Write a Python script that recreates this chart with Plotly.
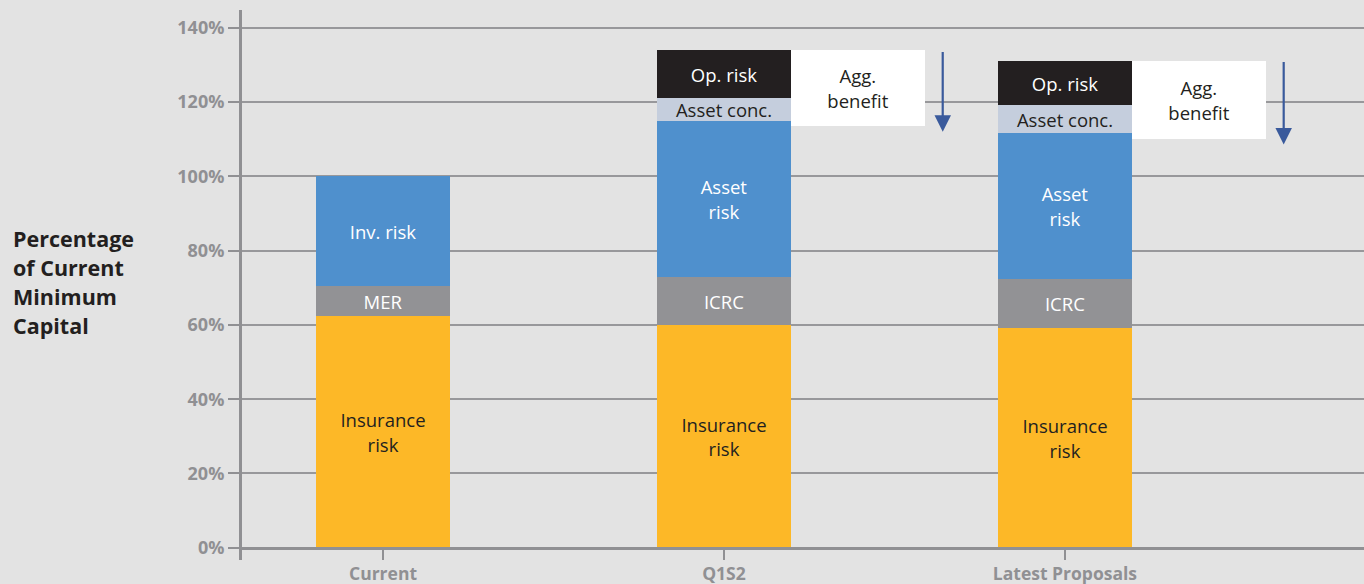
import plotly.graph_objects as go

categories = ["Current", "Q1S2", "Latest Proposals"]
insurance_risk = [62.3, 60.0, 59.2]
mer = [8.1, None, None]
icrc = [None, 12.9, 13.1]
inv_risk = [29.6, None, None]
asset_risk = [None, 41.9, 39.5]
asset_conc = [None, 6.4, 7.5]
op_risk = [None, 12.7, 11.9]
agg_benefit = [None, 20.4, 21.1]
y_ticks = [0, 20, 40, 60, 80, 100, 120, 140]
y_tick_labels = ["0%", "20%", "40%", "60%", "80%", "100%", "120%", "140%"]
title_lines = ["Percentage", "of Current", "Minimum", "Capital"]

BG = "#e3e3e3"
AXIS = "#909093"
DARK = "#231f20"
FONT = "Open Sans"
W = 0.393
PLOT_H = 550

xs = list(range(len(categories)))
fig = go.Figure()

def seg(vals, base, color, text, tcolor):
    fig.add_trace(go.Bar(
        x=xs, y=[v if v is not None else 0 for v in vals], base=base,
        width=W, offset=-W / 2,
        marker=dict(color=color, line=dict(width=0)),
        text=[text if v is not None else "" for v in vals],
        textposition="inside", insidetextanchor="middle", textangle=0,
        textfont=dict(family=FONT, size=18.5, color=tcolor),
        hoverinfo="skip", showlegend=False,
    ))

cum = [0.0] * 3
for vals, color, text, tcolor in [
    (insurance_risk, "#fdb827", "Insurance<br>risk", DARK),
    (mer, "#929295", "MER", "white"),
    (icrc, "#929295", "ICRC", "white"),
    (inv_risk, "#4f90cd", "Inv. risk", "white"),
    (asset_risk, "#4f90cd", "Asset<br>risk", "white"),
    (asset_conc, "#c5cedd", "Asset conc.", DARK),
    (op_risk, "#231f20", "Op. risk", "white"),
]:
    seg(vals, list(cum), color, text, tcolor)
    cum = [c + (v or 0) for c, v in zip(cum, vals)]

totals = cum
# Aggregation benefit boxes
fig.add_trace(go.Bar(
    x=xs, y=[v or 0 for v in agg_benefit],
    base=[t - (v or 0) for t, v in zip(totals, agg_benefit)],
    width=W, offset=W / 2,
    marker=dict(color="white", line=dict(width=0)),
    text=["Agg.<br>benefit" if v else "" for v in agg_benefit],
    textposition="inside", insidetextanchor="middle", textangle=0,
    textfont=dict(family=FONT, size=18.5, color=DARK),
    hoverinfo="skip", showlegend=False,
))

for i, v in enumerate(agg_benefit):
    if v:
        ax_x = xs[i] + 1.5 * W + 0.052
        fig.add_annotation(
            x=ax_x, y=totals[i] - v - 1.5, ax=ax_x, ay=totals[i],
            xref="x", yref="y", axref="x", ayref="y",
            showarrow=True, arrowhead=2, arrowsize=1.5, arrowwidth=2.2,
            arrowcolor="#3a5a9c", standoff=0, text="",
        )

for k, line in enumerate(title_lines):
    yc = 238 + 29 * k  # pixel centre of each line from the top of the page
    fig.add_annotation(
        text="<b>" + line + "</b>",
        xref="paper", yref="paper", x=-231 / 1122, y=(560 - yc) / PLOT_H,
        xanchor="left", yanchor="middle", align="left", showarrow=False,
        font=dict(family=FONT, size=21.5, color=DARK),
    )

fig.update_layout(
    width=1364, height=584,
    margin=dict(l=242, r=0, t=10, b=24),
    paper_bgcolor=BG, plot_bgcolor=BG,
    barmode="overlay", bargap=0,
    uniformtext=dict(minsize=18.5, mode="show"),
    xaxis=dict(
        range=[-0.4135, 2.877], tickvals=xs, ticktext=categories,
        showgrid=False, zeroline=False, automargin=False,
        showline=True, linecolor=AXIS, linewidth=3,
        ticks="outside", ticklen=10, tickwidth=2, tickcolor=AXIS,
        tickfont=dict(family=FONT, size=17.5, color=AXIS, weight="bold"),
        ticklabelstandoff=-1,
        anchor="free", position=12.3 / PLOT_H,
    ),
    yaxis=dict(
        range=[-3.3, 144.8], tickvals=y_ticks, ticktext=y_tick_labels,
        showgrid=True, gridcolor="#98989b", gridwidth=2,
        zeroline=False, automargin=False,
        showline=True, linecolor=AXIS, linewidth=3,
        ticks="outside", ticklen=11, tickwidth=2, tickcolor=AXIS,
        tickfont=dict(family=FONT, size=18, color=AXIS, weight="bold"),
    ),
)

fig.write_html("out.html")
